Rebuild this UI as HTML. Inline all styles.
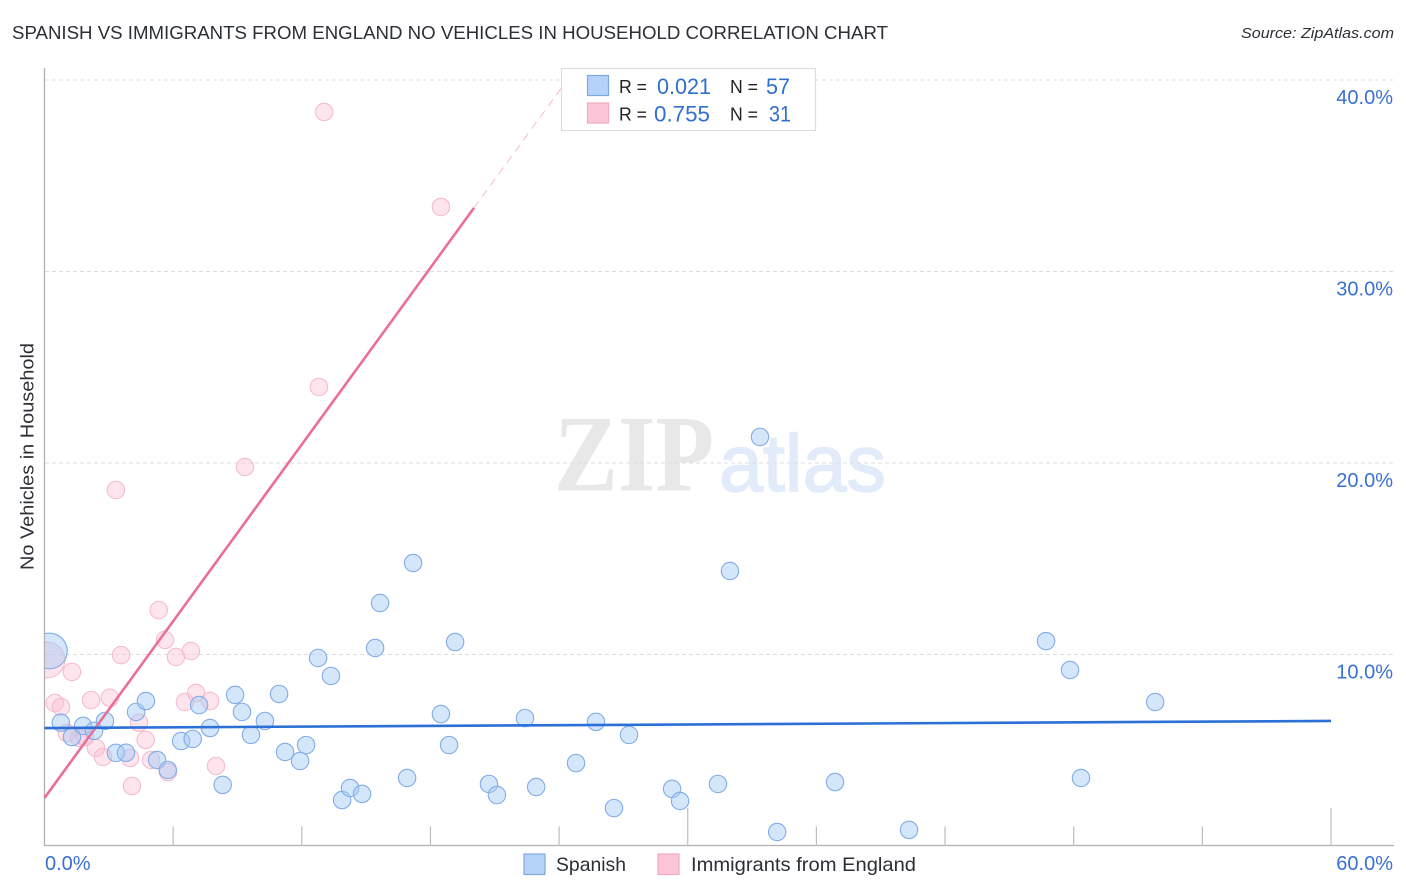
<!DOCTYPE html>
<html lang="en">
<head>
<meta charset="utf-8">
<title>Spanish vs Immigrants from England No Vehicles in Household Correlation Chart</title>
<style>
html,body{margin:0;padding:0;background:#fff;width:1406px;height:892px;overflow:hidden}
svg{display:block;font-family:"Liberation Sans",sans-serif}
</style>
</head>
<body>
<svg id="chart" xmlns="http://www.w3.org/2000/svg" width="1406" height="892" viewBox="0 0 1406 892">
  <defs>
    <clipPath id="plot-clip"><rect x="45" y="60" width="1349" height="786"/></clipPath>
  </defs>
  <rect x="0" y="0" width="1406" height="892" fill="#fff"/>
  <text x="12" y="39" font-size="18.5" fill="#2b2f36" textLength="876" lengthAdjust="spacingAndGlyphs">SPANISH VS IMMIGRANTS FROM ENGLAND NO VEHICLES IN HOUSEHOLD CORRELATION CHART</text>
  <text x="1394" y="38" font-size="15" font-style="italic" fill="#2b2f36" text-anchor="end" textLength="153" lengthAdjust="spacingAndGlyphs">Source: ZipAtlas.com</text>
  <g>
    <text x="554" y="490.5" font-family="'Liberation Serif',serif" font-weight="bold" font-size="109" fill="#e8e8e8" textLength="160" lengthAdjust="spacingAndGlyphs">ZIP</text>
    <text x="719" y="491" font-family="'Liberation Sans',sans-serif" font-size="81" fill="#e2ebf9" stroke="#e2ebf9" stroke-width="1.5" textLength="167" lengthAdjust="spacingAndGlyphs">atlas</text>
  </g>
  <g id="grid"></g>
  <g id="axes">
    <line x1="44.5" y1="68" x2="44.5" y2="846" stroke="#b0b0b0" stroke-width="1.3"/>
    <line x1="44" y1="845.5" x2="1394" y2="845.5" stroke="#b0b0b0" stroke-width="1.3"/>
  </g>
  <g id="x-ticks"></g>
  <g id="y-labels"></g>
  <g id="x-labels"></g>
  <g id="points" clip-path="url(#plot-clip)"></g>
  <g id="trends"></g>
  <text transform="translate(33.5,456.5) rotate(-90)" font-size="18.5" fill="#2b2f36" text-anchor="middle" textLength="227" lengthAdjust="spacingAndGlyphs">No Vehicles in Household</text>
  <g>
    <rect x="561.5" y="68.5" width="254" height="62" fill="#fff" stroke="#ddd" stroke-width="1.2"/>
    <rect x="587.5" y="75.5" width="21" height="20" fill="#b5d3f8" stroke="#7ea9e0" stroke-width="1.2"/>
    <rect x="587.5" y="103" width="21" height="20" fill="#fdc6d8" stroke="#f2a9c0" stroke-width="1.2"/>
    <text x="619" y="93" font-size="18.5" fill="#222" textLength="28" lengthAdjust="spacingAndGlyphs">R =</text>
    <text x="657" y="94" font-size="22" fill="#2f6fd0" textLength="54" lengthAdjust="spacingAndGlyphs">0.021</text>
    <text x="730" y="93" font-size="18.5" fill="#222" textLength="28" lengthAdjust="spacingAndGlyphs">N =</text>
    <text x="766" y="94" font-size="22" fill="#2f6fd0" textLength="24" lengthAdjust="spacingAndGlyphs">57</text>
    <text x="619" y="120.5" font-size="18.5" fill="#222" textLength="28" lengthAdjust="spacingAndGlyphs">R =</text>
    <text x="654" y="121.5" font-size="22" fill="#2f6fd0" textLength="56" lengthAdjust="spacingAndGlyphs">0.755</text>
    <text x="730" y="120.5" font-size="18.5" fill="#222" textLength="28" lengthAdjust="spacingAndGlyphs">N =</text>
    <text x="769" y="121.5" font-size="22" fill="#2f6fd0" textLength="22" lengthAdjust="spacingAndGlyphs">31</text>
  </g>
  <g>
    <rect x="524" y="854" width="21" height="20.5" fill="#b5d3f8" stroke="#7ea9e0" stroke-width="1.2"/>
    <text x="556" y="871" font-size="19.5" fill="#2b2f36" textLength="70" lengthAdjust="spacingAndGlyphs">Spanish</text>
    <rect x="658" y="854" width="21" height="20.5" fill="#fdc6d8" stroke="#f2a9c0" stroke-width="1.2"/>
    <text x="691" y="871" font-size="19.5" fill="#2b2f36" textLength="225" lengthAdjust="spacingAndGlyphs">Immigrants from England</text>
  </g>
</svg>
<script>
// ---- chart data (x: percent Spanish / immigrants, y: percent no vehicles) ----
const spanishX = [0.23,0.76,1.28,1.80,2.31,2.82,3.33,3.80,4.27,4.73,5.25,5.75,6.37,6.91,7.21,7.72,8.31,8.89,9.21,9.63,10.28,10.94,11.22,11.92,12.20,12.76,13.36,13.88,14.25,14.81,15.42,15.65,16.91,17.19,18.49,18.87,19.15,20.73,21.10,22.41,22.93,24.79,25.72,26.56,27.26,29.27,29.64,31.41,31.97,33.37,34.17,36.87,40.32,46.71,47.83,48.34,51.80];
const spanishY = [10.18,6.44,5.69,6.27,6.01,6.53,4.86,4.87,7.00,7.57,4.49,3.97,5.48,5.59,7.36,6.16,3.19,7.89,7.00,5.80,6.53,7.94,4.91,4.44,5.27,9.82,8.88,2.40,3.03,2.72,10.34,12.69,3.55,14.78,6.89,5.27,10.65,3.24,2.66,6.68,3.08,4.33,6.48,1.98,5.80,2.98,2.35,3.24,14.36,21.36,0.73,3.34,0.84,10.70,9.19,3.55,7.52];
const spanishWeight = [4.2];
const englandX = [0.12,5.33,5.62,3.57,6.13,6.83,1.28,0.48,0.77,2.17,3.05,4.41,7.07,6.55,7.72,1.04,1.61,1.89,2.40,2.73,3.99,4.72,4.97,5.76,4.08,8.00,3.33,9.35,12.80,18.49,13.04];
const englandY = [9.71,12.32,10.76,9.97,9.87,10.18,9.09,7.47,7.26,7.62,7.74,6.44,7.99,7.52,7.57,5.90,5.64,5.69,5.12,4.65,4.60,5.54,4.49,3.86,3.13,4.18,18.59,19.79,23.97,33.37,38.33];
const englandWeight = [4.2];
const spanishTrendX = [0,60];
const spanishTrendY = [6.16,6.53];
const englandTrendX = [0,20.03,24.14];
const englandTrendY = [2.51,33.32,39.63];
const xTickValues = [6,12,18,24,30,36,42,48,54,60];
const majorXTicks = [30,60];
const yGridValues = [10,20,30,40];
const yTickLabels = ["10.0%","20.0%","30.0%","40.0%"];
const xEndValues = [0,60];
const xEndLabels = ["0.0%","60.0%"];

// ---- axis functions ----
const sx = v => 44.5 + v * (1331 - 44.5) / 60;
const sy = v => 846 - v * (846 - 80) / 40;
const NS = 'http://www.w3.org/2000/svg';
function mk(parent, tag, attrs, text) {
  const el = document.createElementNS(NS, tag);
  for (const k in attrs) el.setAttribute(k, attrs[k]);
  if (text !== undefined) el.textContent = text;
  document.getElementById(parent).appendChild(el);
  return el;
}

yGridValues.forEach((v, i) => {
  const g = mk('grid', 'line', {x1: 45, x2: 1394, y1: sy(v), y2: sy(v), stroke: '#dcdcdc', 'stroke-width': 1, 'stroke-dasharray': '4 3'});
  
  
  const t = mk('y-labels', 'text', {x: 1393, y: sy(v) + 24, 'font-size': 20, fill: '#3a70d2', 'text-anchor': 'end'}, yTickLabels[i]);
  
  
});

xTickValues.forEach(v => {
  const major = majorXTicks.includes(v);
  const l = mk('x-ticks', 'line', {x1: sx(v), x2: sx(v), y1: 846, y2: major ? 808 : 826.5, stroke: '#bdbdbd', 'stroke-width': 1.2});
  
  
});

xEndValues.forEach((v, i) => {
  const t = mk('x-labels', 'text', {x: i === 0 ? sx(v) + 0.5 : 1393, y: 870, 'font-size': 20, fill: '#3a70d2', 'text-anchor': i === 0 ? 'start' : 'end'}, xEndLabels[i]);
  
  
});

englandX.forEach((v, i) => {
  const c = mk('points', 'circle', {cx: sx(v), cy: sy(englandY[i]), r: 8.7 * Math.sqrt(englandWeight[i] || 1), fill: 'rgba(253,190,210,0.42)', stroke: '#f5bccf', 'stroke-width': 1.1});
  
  
});
spanishX.forEach((v, i) => {
  const c = mk('points', 'circle', {cx: sx(v), cy: sy(spanishY[i]), r: 8.7 * Math.sqrt(spanishWeight[i] || 1), fill: 'rgba(165,203,245,0.48)', stroke: '#82ace6', 'stroke-width': 1.1});
  
  
});

const englandSolid = mk('trends', 'line', {x1: sx(englandTrendX[0]), y1: sy(englandTrendY[0]), x2: sx(englandTrendX[1]), y2: sy(englandTrendY[1]), stroke: '#e96f98', 'stroke-width': 2.6});


const englandDash = mk('trends', 'line', {x1: sx(englandTrendX[1]), y1: sy(englandTrendY[1]), x2: sx(englandTrendX[2]), y2: sy(englandTrendY[2]), stroke: '#f2b3c8', 'stroke-width': 0.9, 'stroke-dasharray': '8 6'});


const spanishLine = mk('trends', 'line', {x1: sx(spanishTrendX[0]), y1: sy(spanishTrendY[0]), x2: sx(spanishTrendX[1]), y2: sy(spanishTrendY[1]), stroke: '#2a70d6', 'stroke-width': 2.6});


</script>
</body>
</html>
